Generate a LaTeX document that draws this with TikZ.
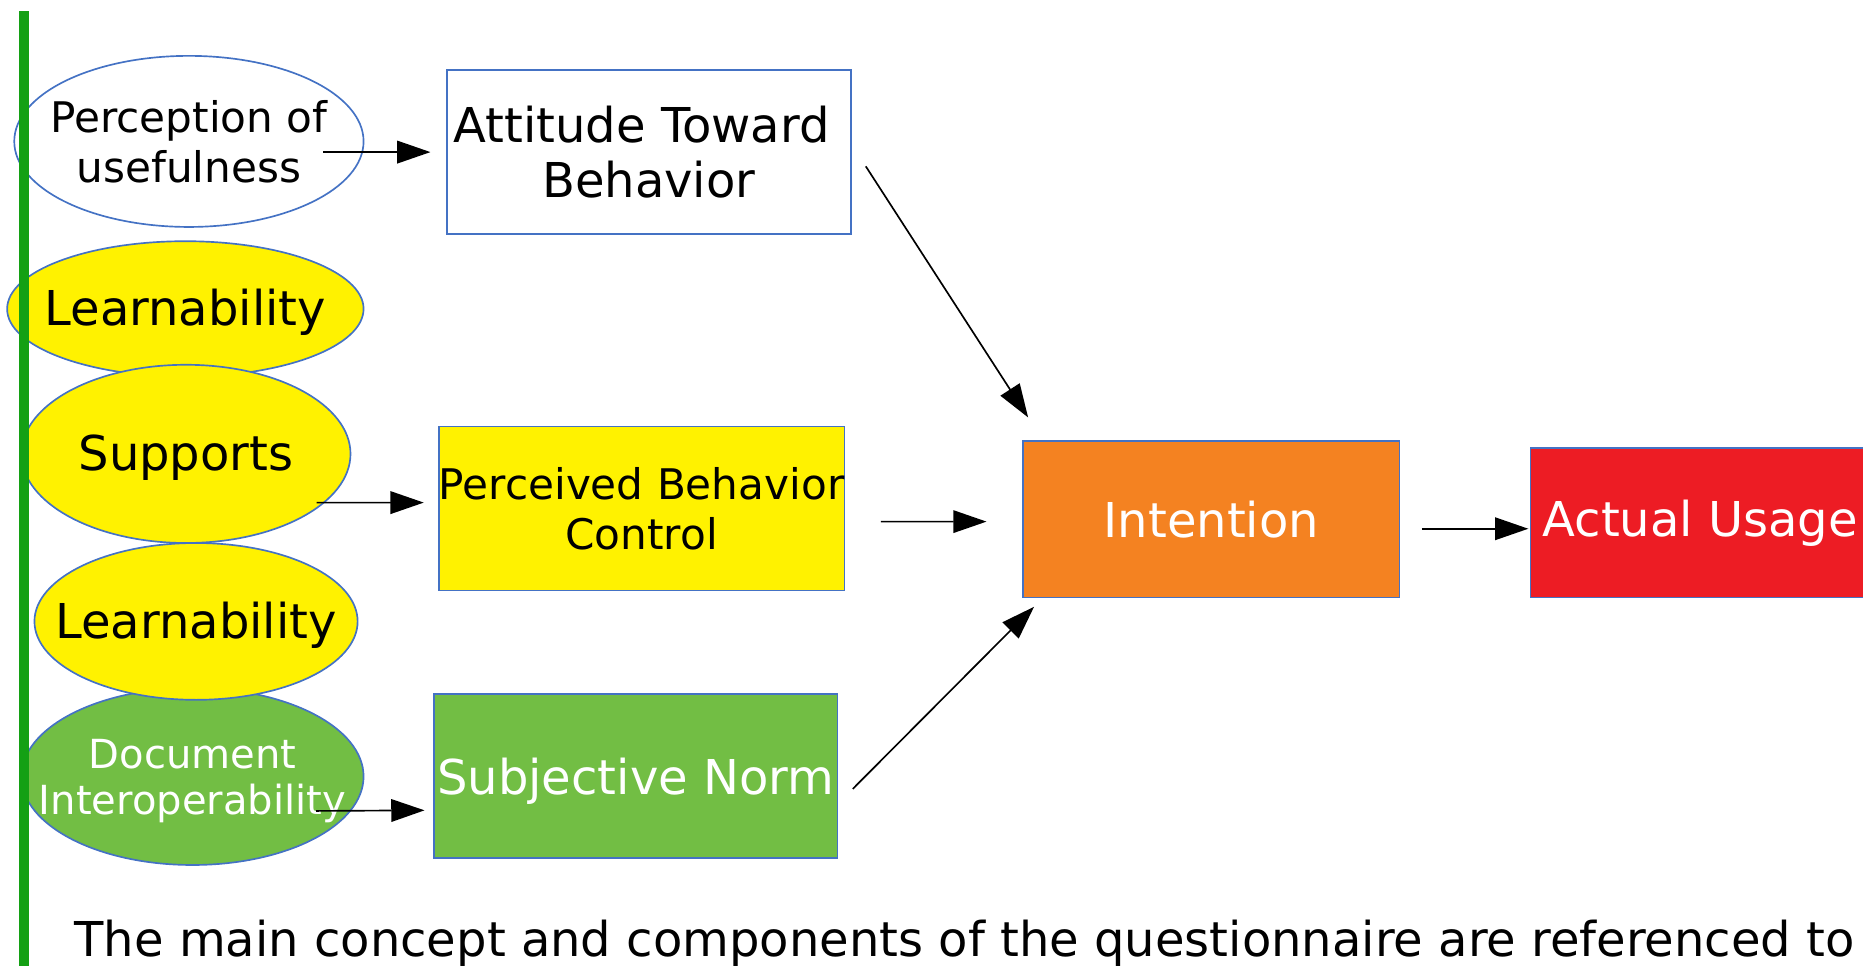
\documentclass[tikz,border=0pt]{standalone}
\usepackage{fontspec}
\setmainfont{DejaVu Sans}
\usetikzlibrary{shapes.geometric,arrows.meta}
\definecolor{rimblue}{RGB}{68,114,196}
\definecolor{tpbyellow}{RGB}{255,242,0}
\definecolor{tpbgreen}{RGB}{114,190,68}
\definecolor{tpborange}{RGB}{244,130,33}
\definecolor{tpbred}{RGB}{237,28,36}
\definecolor{bargreen}{RGB}{20,160,20}
\newcommand{\elltext}[1]{\makebox[0pt]{\raisebox{0pt}[\dimexpr\height+2.8pt][\depth]{\begin{tabular}{@{}c@{}}#1\end{tabular}}}}

\begin{document}
\begin{tikzpicture}[
  factor/.style={ellipse, draw=rimblue, line width=0.4pt, inner sep=0pt},
  construct/.style={rectangle, draw=rimblue, line width=0.4pt, inner sep=0pt,
                    align=center, minimum width=3.4cm, minimum height=1.38cm},
  arr/.style={-{Triangle[length=0.28cm,width=0.19cm]}, line width=0.4pt},
  bigfont/.style={font=\fontsize{11.5}{13.4}\selectfont},
  midfont/.style={font=\fontsize{10.1}{11.9}\selectfont},
  smallfont/.style={font=\fontsize{9.6}{11.1}\selectfont}]
\useasboundingbox (0,0) rectangle (15.68,-8.13);
% factors on the left
\node[factor, midfont, fill=white, minimum width=2.94cm, minimum height=1.44cm] (perc) at (1.59,-1.19) {\elltext{Perception of\\usefulness}};
\node[factor, bigfont, fill=tpbyellow, minimum width=3.00cm, minimum height=1.14cm] (learnA) at (1.56,-2.60) {\elltext{Learnability}};
\node[factor, bigfont, fill=tpbyellow, minimum width=2.77cm, minimum height=1.50cm] (sup) at (1.565,-3.82) {\elltext{Supports}};
\node[factor, smallfont, fill=tpbgreen, text=white, minimum width=2.88cm, minimum height=1.49cm] (doc) at (1.62,-6.535) {\elltext{Document\\Interoperability}};
\node[factor, bigfont, fill=tpbyellow, minimum width=2.72cm, minimum height=1.32cm] (learnB) at (1.65,-5.23) {\elltext{Learnability}};
% model
\node[construct, bigfont, fill=white] (att) at (5.46,-1.28) {Attitude Toward\hspace*{0.12cm}\\Behavior};
\node[construct, bigfont, fill=tpbgreen, text=white, text height=0.39cm] (sn) at (5.35,-6.53) {Subjective Norm};
\node[construct, midfont, fill=tpbyellow] (pbc) at (5.40,-4.28) {Perceived Behavior\\Control};
\node[construct, bigfont, fill=tpborange, text=white, minimum width=3.17cm, minimum height=1.32cm] (int) at (10.195,-4.37) {Intention};
\node[construct, bigfont, fill=tpbred, text=white, minimum width=2.86cm, minimum height=1.26cm] (act) at (14.31,-4.40) {Actual Usage};
\draw[arr] ([shift={(1.13,-0.09)}]perc.center) -- ([xshift=-0.13cm]att.west);
\draw[arr] ([shift={(1.10,-0.41)}]sup.center) -- ([shift={(-0.12,0.05)}]pbc.west);
\draw[arr] ([shift={(1.04,-0.29)}]doc.center) -- ([shift={(-0.07,-0.29)}]sn.west);
\draw[arr] ([shift={(0.12,-0.12)}]att.east) -- ([shift={(0.05,0.19)}]int.north west);
\draw[arr] ([shift={(0.30,-0.11)}]pbc.east) -- ([shift={(-0.30,-0.02)}]int.west);
\draw[arr] ([shift={(0.12,-0.11)}]sn.east) -- ([shift={(0.10,-0.07)}]int.south west);
\draw[arr] ([shift={(0.18,-0.08)}]int.east) -- ([shift={(-0.01,-0.05)}]act.west);
\node[anchor=base west, inner sep=0pt, font=\fontsize{11.5}{13.4}\selectfont] (caption) at (0.62,-8.05)
  {The main concept and components of the questionnaire are referenced to};
\fill[bargreen] (0.16,-0.09) rectangle (0.24,-8.20);
\end{tikzpicture}
\end{document}
